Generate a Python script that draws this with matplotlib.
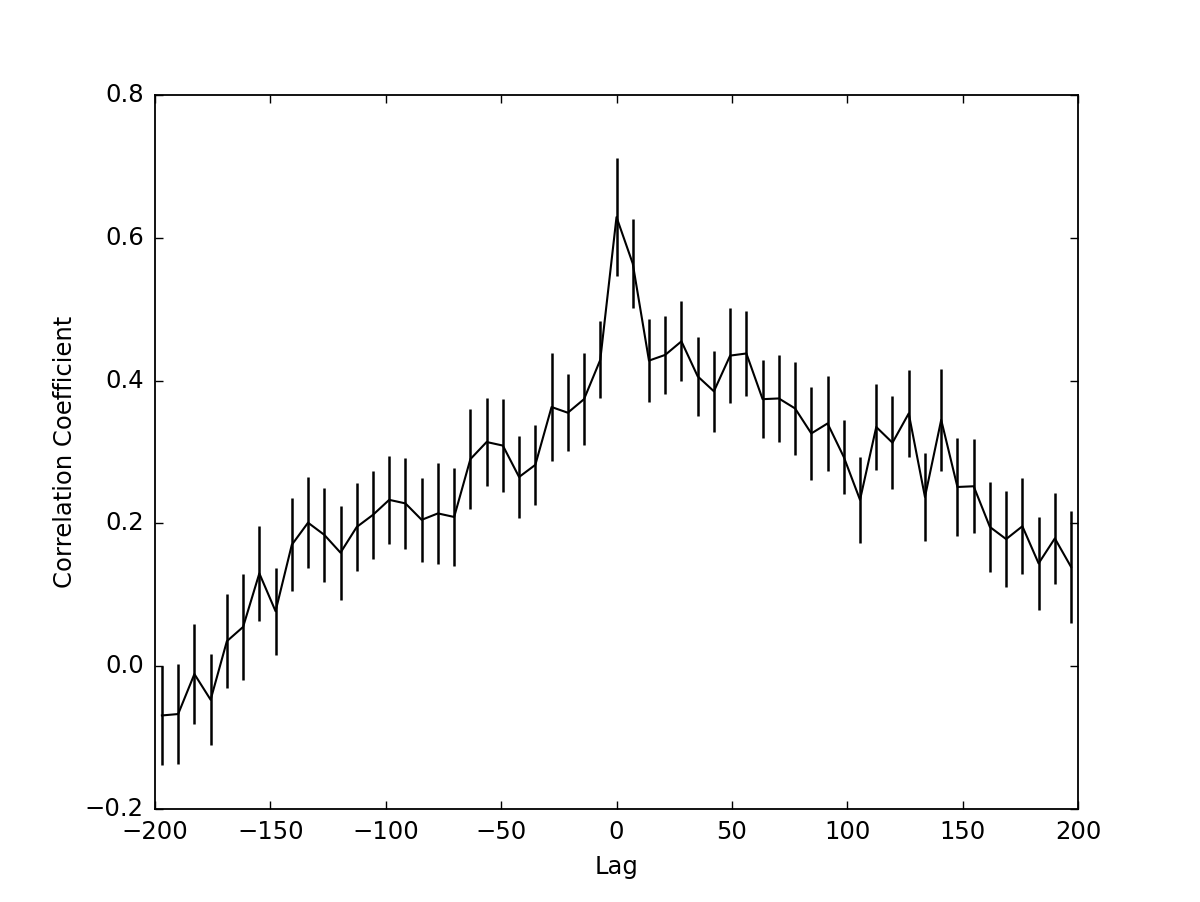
import numpy as np
import matplotlib
matplotlib.use('Agg')
import matplotlib.pyplot as plt

plt.style.use('classic')

# lag grid (57 evenly spaced lags)
lags = np.linspace(-197, 197, 57)

# correlation coefficient at each lag
corr = [-0.069, -0.067, -0.011, -0.047, 0.035, 0.055, 0.130, 0.077, 0.170, 0.201,
        0.184, 0.159, 0.195, 0.212, 0.233, 0.228, 0.205, 0.214, 0.209, 0.290,
        0.314, 0.309, 0.265, 0.282, 0.363, 0.355, 0.374, 0.429, 0.629, 0.564,
        0.428, 0.436, 0.455, 0.406, 0.385, 0.435, 0.438, 0.374, 0.375, 0.361,
        0.326, 0.340, 0.293, 0.233, 0.335, 0.313, 0.354, 0.237, 0.345, 0.251,
        0.252, 0.195, 0.178, 0.196, 0.144, 0.179, 0.139]

# symmetric error bar half-widths
err = [0.069, 0.070, 0.070, 0.064, 0.066, 0.074, 0.067, 0.061, 0.065, 0.064,
       0.066, 0.066, 0.061, 0.062, 0.062, 0.064, 0.059, 0.071, 0.069, 0.070,
       0.061, 0.065, 0.058, 0.056, 0.075, 0.054, 0.064, 0.054, 0.083, 0.063,
       0.058, 0.055, 0.056, 0.055, 0.057, 0.066, 0.060, 0.055, 0.061, 0.065,
       0.065, 0.067, 0.052, 0.060, 0.060, 0.065, 0.061, 0.062, 0.071, 0.068,
       0.066, 0.063, 0.067, 0.067, 0.065, 0.064, 0.078]

fig = plt.figure(figsize=(12, 9.02), dpi=100)
ax = fig.add_axes([155 / 1200, 1 - 809 / 902, 923 / 1200, 714 / 902])

ax.errorbar(lags, corr, yerr=err, color='k', ecolor='k', capsize=0,
            linewidth=1.5, elinewidth=1.8)

ax.set_xlim(-200, 200)
ax.set_ylim(-0.2, 0.8)
ax.set_xticks([-200, -150, -100, -50, 0, 50, 100, 150, 200])
ax.set_yticks([-0.2, 0.0, 0.2, 0.4, 0.6, 0.8])
ax.tick_params(labelsize=17.5, length=6, width=1, direction='in', top=True, right=True, pad=8)
ax.set_xlabel('Lag', fontsize=17.5, labelpad=8)
ax.set_ylabel('Correlation Coefficient', fontsize=17.5, labelpad=6)
for s in ax.spines.values():
    s.set_linewidth(1.3)

fig.savefig('out.png', dpi=100, facecolor='white')
